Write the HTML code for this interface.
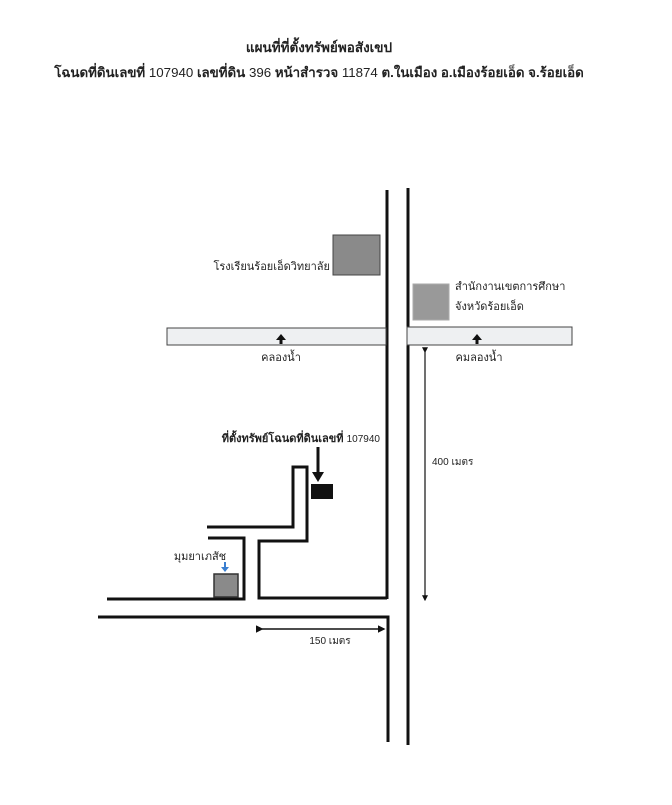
<!DOCTYPE html>
<html><head><meta charset="utf-8"><style>
body{margin:0;background:#fff;width:672px;height:800px;overflow:hidden}
svg text{font-family:"Liberation Sans","Noto Sans CJK SC",sans-serif;fill:#222}
</style></head><body>
<svg width="672" height="800" xmlns="http://www.w3.org/2000/svg">
<defs>
<marker id="a" markerWidth="5" markerHeight="5" refX="4" refY="2.5" orient="auto"><path d="M0,0L5,2.5L0,5z" fill="#111"/></marker>
</defs>
<text x="319" y="52" font-size="13.5" font-weight="bold" text-anchor="middle">แผนที่ที่ตั้งทรัพย์พอสังเขป</text>
<text x="319" y="77" font-size="13.3" font-weight="bold" text-anchor="middle">โฉนดที่ดินเลขที่ <tspan font-weight="normal">107940</tspan> เลขที่ดิน <tspan font-weight="normal">396</tspan> หน้าสำรวจ <tspan font-weight="normal">11874</tspan> ต.ในเมือง อ.เมืองร้อยเอ็ด จ.ร้อยเอ็ด</text>
<g stroke="#111" stroke-width="3" fill="none">
<line x1="387" y1="190" x2="387" y2="599"/>
<line x1="408" y1="188" x2="408" y2="745"/>
<polyline points="207,527 293,527 293,467 307,467 307,541 259,541 259,598 387,598"/>
<polyline points="208,538 244,538 244,599 107,599"/>
<polyline points="98,617 388,617 388,742"/>
</g>
<rect x="167" y="328" width="219" height="17" fill="#eef0f2" stroke="#444" stroke-width="1"/>
<rect x="407" y="327" width="165" height="18" fill="#eef0f2" stroke="#444" stroke-width="1"/>
<rect x="333" y="235" width="47" height="40" fill="#8a8a8a" stroke="#444"/>
<rect x="413" y="284" width="36" height="36" fill="#999" stroke="#aaa"/>
<rect x="311" y="484" width="22" height="15" fill="#111"/>
<rect x="214" y="574" width="24" height="23" fill="#8a8a8a" stroke="#333" stroke-width="1.5"/>
<path d="M281,334 l-5,6 h10z" fill="#111"/><line x1="281" y1="338" x2="281" y2="344" stroke="#111" stroke-width="3"/>
<path d="M477,334 l-5,6 h10z" fill="#111"/><line x1="477" y1="338" x2="477" y2="344" stroke="#111" stroke-width="3"/>
<line x1="318" y1="447" x2="318" y2="472" stroke="#111" stroke-width="3"/><path d="M312,472 h12 l-6,10z" fill="#111"/>
<line x1="225" y1="562" x2="225" y2="568" stroke="#3a7fd0" stroke-width="2"/><path d="M221,567 h8 l-4,5z" fill="#3a7fd0"/>
<line x1="425" y1="352" x2="425" y2="600" stroke="#111" stroke-width="1.2" marker-end="url(#a)" marker-start="url(#a)"/>
<line x1="262" y1="629" x2="384" y2="629" stroke="#111" stroke-width="1.5" marker-end="url(#a)" marker-start="url(#a)"/>
<text x="330" y="270" font-size="11" text-anchor="end">โรงเรียนร้อยเอ็ดวิทยาลัย</text>
<text x="455" y="290" font-size="11">สำนักงานเขตการศึกษา</text>
<text x="455" y="310" font-size="11">จังหวัดร้อยเอ็ด</text>
<text x="281" y="361" font-size="11" text-anchor="middle">คลองน้ำ</text>
<text x="479" y="361" font-size="11" text-anchor="middle">คมลองน้ำ</text>
<text x="380" y="442" font-size="11" font-weight="bold" text-anchor="end">ที่ตั้งทรัพย์โฉนดที่ดินเลขที่ <tspan font-weight="normal" font-size="10">107940</tspan></text>
<text x="432" y="465" font-size="10">400 เมตร</text>
<text x="330" y="644" font-size="10" text-anchor="middle">150 เมตร</text>
<text x="200" y="560" font-size="11" text-anchor="middle">มุมยาเภสัช</text>
</svg>
</body></html>
